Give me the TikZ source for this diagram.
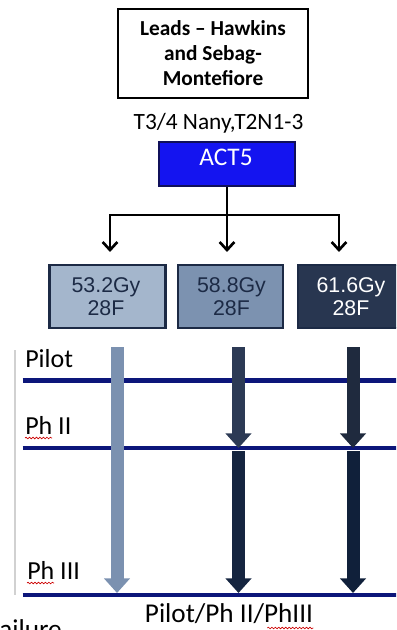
\documentclass[tikz,border=0pt]{standalone}
\usepackage{fontspec}
\setmainfont{Carlito}
\newfontfamily\arialf{Liberation Sans}
\usetikzlibrary{arrows.meta,decorations.pathmorphing,calc}
\definecolor{navyline}{RGB}{12,22,122}
\definecolor{boxA}{RGB}{164,182,204}
\definecolor{boxB}{RGB}{124,146,176}
\definecolor{boxC}{RGB}{40,54,80}
\definecolor{boxedge}{RGB}{28,42,69}
\definecolor{barA}{RGB}{123,145,176}
\definecolor{barBup}{RGB}{44,58,85}
\definecolor{barBlo}{RGB}{21,37,64}
\definecolor{barCup}{RGB}{31,42,62}
\definecolor{barClo}{RGB}{16,32,58}
\definecolor{actblue}{RGB}{20,20,240}
\definecolor{actedge}{RGB}{16,16,90}
\tikzset{
  leadbox/.style={draw=black,line width=1.2pt,fill=white,minimum width={190*0.75pt},minimum height={89*0.75pt},align=center,font=\fontsize{16}{18.75}\selectfont\bfseries,inner sep=0pt},
  actbox/.style={draw=actedge,line width=1.5pt,fill=actblue,minimum width={136*0.75pt},minimum height={44*0.75pt},inner sep=0pt},
  dosebox/.style={draw=boxedge,line width=2.2pt,minimum height={63*0.75pt},inner sep=0pt},
  dosetext/.style={align=center,font=\arialf\fontsize{16}{16.5}\selectfont,inner sep=0pt,anchor=base},
  branch/.style={line width=2.2pt,black},
  brarrow/.style={line width=2.2pt,black,-{Straight Barb[length=6pt,width=11pt,line width=2pt]}},
  phase/.style={line width=3.5pt,navyline},
  lab/.style={anchor=base west,font=\fontsize{19.5}{22}\selectfont,inner sep=0pt},
  bararrow/.style={line width={13*0.75pt},-{Triangle[length=11pt,width=19pt]}},
  squig/.style={red!80!black,line width=0.5pt,decorate,decoration={snake,amplitude=0.6pt,segment length=2.6pt}}
}
\begin{document}
\begin{tikzpicture}[x=0.75pt,y=-0.75pt]
\useasboundingbox (0,0) rectangle (396,630);
\clip (0,0) rectangle (396,630);

% top
\node[leadbox] (lead) at (213,53.5) {Leads -- Hawkins\\and Sebag-\\Montefiore};
\node[anchor=base,font=\fontsize{17.5}{20}\selectfont,inner sep=0pt] (stage) at (218.5,130) {T3/4 Nany,T2N1-3};
\node[actbox] (act) at (227,164) {};
\node[anchor=base,text=white,font=\fontsize{19}{20}\selectfont,inner sep=0pt] (actt) at (226,166) {ACT5};

% dose boxes
\node[dosebox,fill=boxA,minimum width={116*0.75pt}] (d1) at (107.5,296.5) {};
\node[dosebox,fill=boxB,minimum width={105*0.75pt}] (d2) at (230.5,296.5) {};
\node[dosebox,fill=boxC,minimum width={112*0.75pt}] (d3) at (354,296.5) {};
\node[dosetext,text=boxedge] (d1a) at (106,292) {53.2Gy};
\node[dosetext,text=boxedge] (d1b) at (106,315) {28F};
\node[dosetext,text=boxedge] (d2a) at (231.5,292) {58.8Gy};
\node[dosetext,text=boxedge] (d2b) at (231.5,315) {28F};
\node[dosetext,text=white] (d3a) at (351,292) {61.6Gy};
\node[dosetext,text=white] (d3b) at (351,315) {28F};

% branching connector
\coordinate (j) at (227,215);
\coordinate (jl) at (110,215);
\coordinate (jr) at (339,215);
\coordinate (a1) at (110,252);
\coordinate (a2) at (227,252);
\coordinate (a3) at (339,252);
\draw[branch] (act.south) -- (j);
\draw[branch,line cap=rect] (jl) -- (jr);
\draw[brarrow] (jl) -- (a1);
\draw[brarrow] (j) -- (a2);
\draw[brarrow] (jr) -- (a3);

% slide edge
\coordinate (e1) at (15,350);
\coordinate (e2) at (15,595);
\draw[black!18,line width=0.8pt] (e1) -- (e2);

% phase lines
\coordinate (p1l) at (22.5,380.5); \coordinate (p1r) at (400,380.5);
\coordinate (p2l) at (22.5,448); \coordinate (p2r) at (400,448);
\coordinate (p3l) at (22.5,595); \coordinate (p3r) at (400,595);
\draw[phase] (p1l) -- (p1r);
\draw[phase] (p2l) -- (p2r);
\draw[phase] (p3l) -- (p3r);

% labels
\node[lab] (pilot) at (25,367) {Pilot};
\node[lab] (ph2) at (25,434) {Ph II};
\node[lab] (ph3) at (27,579) {Ph III};
\draw[squig] ($(ph2.base west)+(0,4)$) -- ($(ph2.base west)+(27,4)$);
\draw[squig] ($(ph3.base west)+(0,4)$) -- ($(ph3.base west)+(27,4)$);

% bars
\coordinate (s1) at (117,347); \coordinate (t1) at (117,593);
\coordinate (s2) at (238.5,347); \coordinate (m2) at (238.5,448); \coordinate (u2) at (238.5,451); \coordinate (t2) at (238.5,593);
\coordinate (s3) at (353,347); \coordinate (m3) at (353,448); \coordinate (u3) at (353,451); \coordinate (t3) at (353,593);
\draw[bararrow,barA] (s1) -- (t1);
\draw[bararrow,barBup] (s2) -- (m2);
\draw[bararrow,barBlo] (u2) -- (t2);
\draw[bararrow,barCup] (s3) -- (m3);
\draw[bararrow,barClo] (u3) -- (t3);

% bottom texts
\node[anchor=base,font=\fontsize{20.4}{24}\selectfont,inner sep=0pt] (bottom) at (229,622) {Pilot/Ph II/PhIII};
\draw[squig] ($(bottom.base east)+(-46,6)$) -- ($(bottom.base east)+(0,6)$);
\node[anchor=base west,font=\fontsize{20.4}{24}\selectfont,inner sep=0pt] (fail) at (-1,638) {ailure};
\end{tikzpicture}
\end{document}
